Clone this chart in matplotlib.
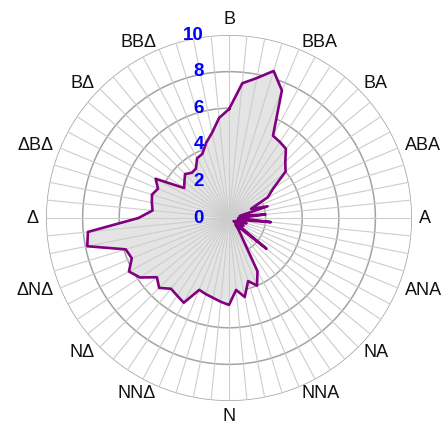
import numpy as np
import matplotlib.pyplot as plt
from matplotlib.transforms import offset_copy

# compass labels (Greek), clockwise from north
directions = ['Β', 'ΒΒΑ', 'ΒΑ', 'ΑΒΑ', 'Α', 'ΑΝΑ', 'ΝΑ', 'ΝΝΑ',
              'Ν', 'ΝΝΔ', 'ΝΔ', 'ΔΝΔ', 'Δ', 'ΔΒΔ', 'ΒΔ', 'ΒΒΔ']
radial_ticks = [0, 2, 4, 6, 8, 10]

# 64 sectors (5.625 deg each), clockwise from north
values = [5.95, 7.4, 7.8, 8.4, 7.55, 5.1, 5.0, 4.9,
          4.35, 4.0, 2.9, 2.4, 1.3, 2.2, 0.6, 2.0,
          0.5, 2.3, 0.5, 1.0, 0.4, 0.9, 0.3, 2.65,
          0.5, 0.8, 1.3, 3.3, 4.0, 3.6, 4.4, 3.95,
          4.75, 4.6, 4.45, 4.35, 4.25, 5.25, 5.1, 5.0,
          5.4, 5.1, 5.85, 6.2, 5.75, 5.9, 7.9, 7.75,
          4.95, 4.2, 4.3, 4.4, 4.2, 4.55, 2.95, 3.15,
          3.4, 3.2, 3.25, 3.7, 3.8, 4.3, 4.75, 5.5]

n = len(values)
theta = np.deg2rad(np.arange(n) * 360.0 / n)

fig = plt.figure(figsize=(4.48, 4.28), dpi=100)
ax = fig.add_axes([0.1027, 0.0631, 0.817, 0.855], projection='polar')
ax.set_theta_zero_location('N')
ax.set_theta_direction(-1)
ax.set_ylim(0, 10)
ax.set_xticks([])
ax.set_yticks([])
ax.grid(False)
ax.spines['polar'].set_visible(False)

# circles
tt = np.linspace(0, 2 * np.pi, 400)
for r in radial_ticks[1:]:
    ax.plot(tt, np.full_like(tt, r), color='#a3a3a3', lw=1.1, zorder=1)

# area
th_c = np.append(theta, theta[0])
v_c = np.append(values, values[0])
ax.fill(th_c, v_c, color='#e4e4e4', zorder=2)

# spokes
for t in theta:
    ax.plot([t, t], [0, 10], color='#cdcdcd', lw=0.8, zorder=3)

ax.plot(th_c, v_c, color='#800080', lw=1.9, zorder=4)

# radial labels
trans = offset_copy(ax.transData, fig=fig, x=-25, y=0, units='dots')
for r in radial_ticks:
    ax.text(0, r, str(r), transform=trans, ha='right', va='center',
            color='#0000ff', fontsize=13.5, fontweight='bold',
            family='Liberation Sans', zorder=5)

# compass labels
for i, lab in enumerate(directions):
    a = np.deg2rad(i * 22.5)
    s = np.sin(a)
    c = np.cos(a)
    if abs(s) < 0.01:
        ha = 'center'
    elif s > 0:
        ha = 'left'
    else:
        ha = 'right'
    if c > 0.99:
        va = 'bottom'
    elif c < -0.99:
        va = 'top'
    else:
        va = 'center'
    ax.text(a, 10.4, lab, ha=ha, va=va, fontsize=13,
            family='Liberation Sans', color='#111111', clip_on=False)

fig.savefig('out.png', dpi=100)
